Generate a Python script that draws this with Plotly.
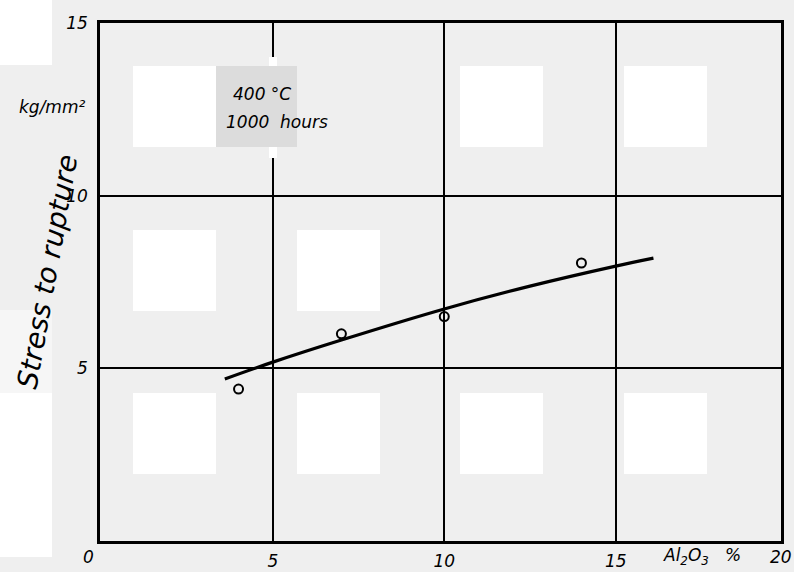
import plotly.graph_objects as go

# ---- data ----
al2o3_pts = [4, 7, 10, 14]
stress_pts = [4.4, 6.0, 6.5, 8.05]
curve_x = [3.6, 5, 7, 10, 12.5, 15, 16.1]
curve_y = [4.69, 5.18, 5.82, 6.72, 7.38, 7.96, 8.19]
x_ticks = [5, 10, 15]
y_ticks = [5, 10, 15]

W, H = 794, 572
L, R, T, B = 100, 781, 23, 541
PAGE = "#efefef"
FONT = "DejaVu Sans"


def px(x):
    return (x - L) / (R - L)


def py(y):
    return (B - y) / (B - T)


fig = go.Figure()
fig.add_trace(go.Scatter(x=curve_x, y=curve_y, mode="lines",
                         line=dict(color="black", width=3.2, shape="spline"),
                         showlegend=False, hoverinfo="skip"))
fig.add_trace(go.Scatter(x=al2o3_pts, y=stress_pts, mode="markers",
                         marker=dict(symbol="circle-open", size=9, color="black",
                                     line=dict(width=2, color="black")),
                         showlegend=False))

shapes = []
# background scan blocks (decoration)
sq_x = [133, 297, 460, 624]
sq_y = [66, 230, 393]
present = {(0, 0), (0, 2), (0, 3), (1, 0), (1, 1),
           (2, 0), (2, 1), (2, 2), (2, 3)}
for r, y0 in enumerate(sq_y):
    for c, x0 in enumerate(sq_x):
        if (r, c) in present:
            shapes.append(dict(type="rect", xref="paper", yref="paper",
                               x0=px(x0), x1=px(x0 + 83), y0=py(y0 + 81), y1=py(y0),
                               fillcolor="white", line=dict(width=0), layer="below"))
# left strip blocks
for (y0, y1, col) in [(0, 65, "white"), (310, 393, "#f6f6f6"), (393, 557, "white")]:
    shapes.append(dict(type="rect", xref="paper", yref="paper",
                       x0=px(0), x1=px(52), y0=py(y1), y1=py(y0),
                       fillcolor=col, line=dict(width=0), layer="below"))
# text box
shapes.append(dict(type="rect", xref="paper", yref="paper",
                   x0=px(269), x1=px(277), y0=py(158), y1=py(57),
                   fillcolor="white", line=dict(width=0), layer="above"))
shapes.append(dict(type="rect", xref="paper", yref="paper",
                   x0=px(216), x1=px(297), y0=py(147), y1=py(66),
                   fillcolor="#dcdcdc", line=dict(width=0), layer="above"))

tfont = dict(family=FONT, size=17, color="black", style="italic")
boxfont = dict(family=FONT, size=17, color="black", style="italic")
annotations = [
    dict(text="400 °C", x=px(231), y=py(94), xref="paper", yref="paper",
         xanchor="left", yanchor="middle", showarrow=False, font=boxfont),
    dict(text="1000  hours", x=px(224), y=py(122), xref="paper", yref="paper",
         xanchor="left", yanchor="middle", showarrow=False, font=boxfont),
    dict(text="kg/mm²", x=px(52), y=py(107), xref="paper", yref="paper",
         xanchor="center", yanchor="middle", showarrow=False,
         font=dict(family=FONT, size=17, color="black", style="italic")),
    dict(text="0", x=px(88), y=py(557), xref="paper", yref="paper",
         xanchor="center", yanchor="middle", showarrow=False, font=tfont),
    dict(text="20", x=px(781), y=py(557), xref="paper", yref="paper",
         xanchor="center", yanchor="middle", showarrow=False, font=tfont),
    dict(text="Al<sub>2</sub>O<sub>3</sub>   %", x=px(702), y=py(556), xref="paper", yref="paper",
         xanchor="center", yanchor="middle", showarrow=False, font=tfont),
    dict(text="Stress to rupture", x=px(47), y=py(272), xref="paper", yref="paper",
         xanchor="center", yanchor="middle", showarrow=False, textangle=-80,
         font=dict(family=FONT, size=28, color="black", style="italic")),
]

fig.update_layout(
    width=W, height=H,
    margin=dict(l=L, r=W - R, t=T, b=H - B, autoexpand=False),
    paper_bgcolor=PAGE, plot_bgcolor="rgba(0,0,0,0)",
    shapes=shapes, annotations=annotations,
    xaxis=dict(range=[-0.04, 19.82], tickvals=x_ticks, ticktext=[str(v) for v in x_ticks],
               showgrid=True, gridcolor="black", gridwidth=1.6, automargin=False,
               showline=True, linecolor="black", linewidth=2.5, mirror=True,
               zeroline=False, ticks="outside", ticklen=3, tickcolor="rgba(0,0,0,0)",
               tickfont=tfont),
    yaxis=dict(range=[0, 15], tickvals=y_ticks, ticktext=[str(v) for v in y_ticks],
               showgrid=True, gridcolor="black", gridwidth=1.6, automargin=False,
               showline=True, linecolor="black", linewidth=2.5, mirror=True,
               zeroline=False, ticks="outside", ticklen=6, tickcolor="rgba(0,0,0,0)",
               tickfont=tfont),
)

fig.write_html("out.html")
